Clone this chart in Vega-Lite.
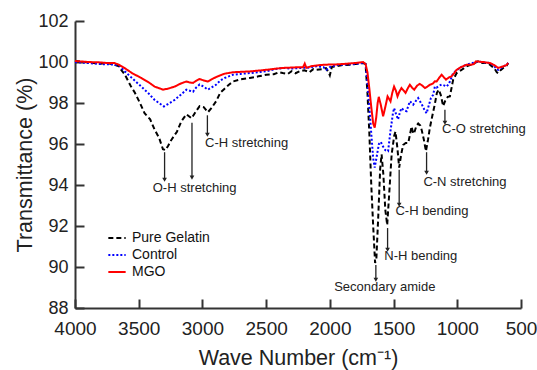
{
  "$schema": "https://vega.github.io/schema/vega-lite/v6.json",
  "autosize": {"type": "none"},
  "padding": {"left": 75, "top": 21, "right": 16, "bottom": 62},
  "width": 446,
  "height": 287,
  "config": {
    "font": "Liberation Sans",
    "view": {"stroke": null},
    "axis": {
      "grid": false,
      "domainColor": "#333333",
      "domainWidth": 2,
      "tickColor": "#333333",
      "tickWidth": 2,
      "tickSize": -9,
      "labelFont": "Liberation Sans",
      "labelFontSize": 19,
      "labelColor": "#222222",
      "titleFont": "Liberation Sans",
      "titleFontSize": 21.5,
      "titleFontWeight": "normal",
      "titleColor": "#222222"
    }
  },
  "datasets": {
    "ftir": [
      {"s":"Pure Gelatin","wn":4000,"t":100.05},{"s":"Pure Gelatin","wn":3900,"t":99.98},{"s":"Pure Gelatin","wn":3800,"t":99.92},{"s":"Pure Gelatin","wn":3750,"t":99.95},{"s":"Pure Gelatin","wn":3700,"t":99.88},{"s":"Pure Gelatin","wn":3660,"t":99.8},{"s":"Pure Gelatin","wn":3610,"t":99.4},{"s":"Pure Gelatin","wn":3560,"t":98.8},{"s":"Pure Gelatin","wn":3530,"t":98.5},{"s":"Pure Gelatin","wn":3490,"t":98.0},{"s":"Pure Gelatin","wn":3454,"t":97.5},{"s":"Pure Gelatin","wn":3410,"t":97.2},{"s":"Pure Gelatin","wn":3375,"t":96.7},{"s":"Pure Gelatin","wn":3340,"t":96.3},{"s":"Pure Gelatin","wn":3310,"t":95.75},{"s":"Pure Gelatin","wn":3290,"t":95.7},{"s":"Pure Gelatin","wn":3270,"t":95.9},{"s":"Pure Gelatin","wn":3244,"t":96.2},{"s":"Pure Gelatin","wn":3200,"t":96.6},{"s":"Pure Gelatin","wn":3166,"t":97.1},{"s":"Pure Gelatin","wn":3126,"t":97.45},{"s":"Pure Gelatin","wn":3085,"t":97.25},{"s":"Pure Gelatin","wn":3050,"t":97.6},{"s":"Pure Gelatin","wn":3022,"t":97.85},{"s":"Pure Gelatin","wn":2990,"t":97.8},{"s":"Pure Gelatin","wn":2957,"t":97.55},{"s":"Pure Gelatin","wn":2930,"t":97.75},{"s":"Pure Gelatin","wn":2891,"t":98.1},{"s":"Pure Gelatin","wn":2860,"t":98.5},{"s":"Pure Gelatin","wn":2826,"t":98.7},{"s":"Pure Gelatin","wn":2790,"t":98.9},{"s":"Pure Gelatin","wn":2760,"t":99.05},{"s":"Pure Gelatin","wn":2700,"t":99.15},{"s":"Pure Gelatin","wn":2629,"t":99.22},{"s":"Pure Gelatin","wn":2560,"t":99.3},{"s":"Pure Gelatin","wn":2498,"t":99.38},{"s":"Pure Gelatin","wn":2440,"t":99.4},{"s":"Pure Gelatin","wn":2400,"t":99.5},{"s":"Pure Gelatin","wn":2370,"t":99.46},{"s":"Pure Gelatin","wn":2330,"t":99.42},{"s":"Pure Gelatin","wn":2300,"t":99.55},{"s":"Pure Gelatin","wn":2270,"t":99.45},{"s":"Pure Gelatin","wn":2236,"t":99.55},{"s":"Pure Gelatin","wn":2200,"t":99.6},{"s":"Pure Gelatin","wn":2160,"t":99.5},{"s":"Pure Gelatin","wn":2130,"t":99.65},{"s":"Pure Gelatin","wn":2105,"t":99.62},{"s":"Pure Gelatin","wn":2060,"t":99.65},{"s":"Pure Gelatin","wn":2030,"t":99.7},{"s":"Pure Gelatin","wn":2010,"t":99.5},{"s":"Pure Gelatin","wn":2000,"t":99.35},{"s":"Pure Gelatin","wn":1985,"t":99.75},{"s":"Pure Gelatin","wn":1940,"t":99.8},{"s":"Pure Gelatin","wn":1900,"t":99.85},{"s":"Pure Gelatin","wn":1844,"t":99.87},{"s":"Pure Gelatin","wn":1780,"t":99.92},{"s":"Pure Gelatin","wn":1739,"t":99.95},{"s":"Pure Gelatin","wn":1720,"t":99.9},{"s":"Pure Gelatin","wn":1705,"t":98.5},{"s":"Pure Gelatin","wn":1690,"t":96.5},{"s":"Pure Gelatin","wn":1675,"t":94.0},{"s":"Pure Gelatin","wn":1660,"t":92.0},{"s":"Pure Gelatin","wn":1645,"t":90.2},{"s":"Pure Gelatin","wn":1635,"t":90.4},{"s":"Pure Gelatin","wn":1620,"t":92.5},{"s":"Pure Gelatin","wn":1605,"t":94.8},{"s":"Pure Gelatin","wn":1594,"t":95.5},{"s":"Pure Gelatin","wn":1580,"t":94.5},{"s":"Pure Gelatin","wn":1565,"t":92.8},{"s":"Pure Gelatin","wn":1550,"t":92.05},{"s":"Pure Gelatin","wn":1535,"t":93.5},{"s":"Pure Gelatin","wn":1515,"t":95.5},{"s":"Pure Gelatin","wn":1495,"t":96.4},{"s":"Pure Gelatin","wn":1485,"t":96.6},{"s":"Pure Gelatin","wn":1470,"t":95.8},{"s":"Pure Gelatin","wn":1456,"t":94.85},{"s":"Pure Gelatin","wn":1440,"t":95.5},{"s":"Pure Gelatin","wn":1425,"t":95.95},{"s":"Pure Gelatin","wn":1405,"t":96.05},{"s":"Pure Gelatin","wn":1385,"t":96.05},{"s":"Pure Gelatin","wn":1370,"t":96.5},{"s":"Pure Gelatin","wn":1359,"t":96.85},{"s":"Pure Gelatin","wn":1345,"t":96.5},{"s":"Pure Gelatin","wn":1338,"t":96.55},{"s":"Pure Gelatin","wn":1320,"t":96.9},{"s":"Pure Gelatin","wn":1307,"t":97.0},{"s":"Pure Gelatin","wn":1290,"t":96.9},{"s":"Pure Gelatin","wn":1280,"t":96.7},{"s":"Pure Gelatin","wn":1262,"t":96.2},{"s":"Pure Gelatin","wn":1246,"t":95.65},{"s":"Pure Gelatin","wn":1230,"t":96.2},{"s":"Pure Gelatin","wn":1215,"t":96.8},{"s":"Pure Gelatin","wn":1195,"t":97.4},{"s":"Pure Gelatin","wn":1176,"t":97.95},{"s":"Pure Gelatin","wn":1160,"t":98.5},{"s":"Pure Gelatin","wn":1145,"t":98.65},{"s":"Pure Gelatin","wn":1130,"t":98.4},{"s":"Pure Gelatin","wn":1111,"t":97.85},{"s":"Pure Gelatin","wn":1095,"t":98.1},{"s":"Pure Gelatin","wn":1075,"t":98.3},{"s":"Pure Gelatin","wn":1058,"t":98.32},{"s":"Pure Gelatin","wn":1040,"t":98.9},{"s":"Pure Gelatin","wn":1032,"t":99.14},{"s":"Pure Gelatin","wn":1005,"t":99.46},{"s":"Pure Gelatin","wn":970,"t":99.6},{"s":"Pure Gelatin","wn":927,"t":99.79},{"s":"Pure Gelatin","wn":880,"t":99.9},{"s":"Pure Gelatin","wn":836,"t":100.03},{"s":"Pure Gelatin","wn":800,"t":99.95},{"s":"Pure Gelatin","wn":770,"t":99.95},{"s":"Pure Gelatin","wn":744,"t":99.87},{"s":"Pure Gelatin","wn":710,"t":99.7},{"s":"Pure Gelatin","wn":690,"t":99.5},{"s":"Pure Gelatin","wn":679,"t":99.46},{"s":"Pure Gelatin","wn":660,"t":99.6},{"s":"Pure Gelatin","wn":639,"t":99.71},{"s":"Pure Gelatin","wn":615,"t":99.8},{"s":"Pure Gelatin","wn":600,"t":99.95},
      {"s":"Control","wn":4000,"t":100.0},{"s":"Control","wn":3900,"t":99.95},{"s":"Control","wn":3800,"t":99.9},{"s":"Control","wn":3700,"t":99.88},{"s":"Control","wn":3650,"t":99.8},{"s":"Control","wn":3610,"t":99.55},{"s":"Control","wn":3550,"t":99.2},{"s":"Control","wn":3480,"t":98.8},{"s":"Control","wn":3420,"t":98.45},{"s":"Control","wn":3375,"t":98.15},{"s":"Control","wn":3330,"t":97.95},{"s":"Control","wn":3302,"t":97.83},{"s":"Control","wn":3270,"t":97.95},{"s":"Control","wn":3218,"t":98.15},{"s":"Control","wn":3170,"t":98.4},{"s":"Control","wn":3126,"t":98.65},{"s":"Control","wn":3100,"t":98.6},{"s":"Control","wn":3074,"t":98.55},{"s":"Control","wn":3050,"t":98.75},{"s":"Control","wn":3022,"t":98.9},{"s":"Control","wn":2990,"t":98.8},{"s":"Control","wn":2957,"t":98.65},{"s":"Control","wn":2930,"t":98.75},{"s":"Control","wn":2891,"t":98.9},{"s":"Control","wn":2860,"t":99.1},{"s":"Control","wn":2826,"t":99.22},{"s":"Control","wn":2760,"t":99.38},{"s":"Control","wn":2700,"t":99.42},{"s":"Control","wn":2629,"t":99.46},{"s":"Control","wn":2560,"t":99.5},{"s":"Control","wn":2498,"t":99.55},{"s":"Control","wn":2430,"t":99.65},{"s":"Control","wn":2370,"t":99.71},{"s":"Control","wn":2300,"t":99.68},{"s":"Control","wn":2236,"t":99.71},{"s":"Control","wn":2170,"t":99.72},{"s":"Control","wn":2105,"t":99.79},{"s":"Control","wn":2050,"t":99.75},{"s":"Control","wn":2026,"t":99.62},{"s":"Control","wn":2000,"t":99.75},{"s":"Control","wn":1950,"t":99.85},{"s":"Control","wn":1896,"t":99.87},{"s":"Control","wn":1800,"t":99.9},{"s":"Control","wn":1739,"t":99.95},{"s":"Control","wn":1720,"t":99.9},{"s":"Control","wn":1705,"t":99.0},{"s":"Control","wn":1690,"t":97.8},{"s":"Control","wn":1675,"t":96.5},{"s":"Control","wn":1660,"t":95.3},{"s":"Control","wn":1648,"t":94.85},{"s":"Control","wn":1635,"t":95.3},{"s":"Control","wn":1615,"t":96.0},{"s":"Control","wn":1600,"t":96.1},{"s":"Control","wn":1585,"t":95.9},{"s":"Control","wn":1565,"t":95.7},{"s":"Control","wn":1543,"t":95.65},{"s":"Control","wn":1525,"t":96.6},{"s":"Control","wn":1505,"t":97.5},{"s":"Control","wn":1496,"t":97.75},{"s":"Control","wn":1480,"t":97.45},{"s":"Control","wn":1465,"t":97.2},{"s":"Control","wn":1450,"t":97.55},{"s":"Control","wn":1438,"t":97.75},{"s":"Control","wn":1420,"t":97.65},{"s":"Control","wn":1398,"t":97.6},{"s":"Control","wn":1385,"t":97.85},{"s":"Control","wn":1372,"t":98.08},{"s":"Control","wn":1358,"t":98.0},{"s":"Control","wn":1346,"t":97.92},{"s":"Control","wn":1325,"t":98.1},{"s":"Control","wn":1307,"t":98.24},{"s":"Control","wn":1294,"t":98.1},{"s":"Control","wn":1280,"t":97.95},{"s":"Control","wn":1260,"t":97.7},{"s":"Control","wn":1241,"t":97.5},{"s":"Control","wn":1225,"t":97.85},{"s":"Control","wn":1207,"t":98.24},{"s":"Control","wn":1189,"t":98.4},{"s":"Control","wn":1176,"t":98.8},{"s":"Control","wn":1162,"t":98.75},{"s":"Control","wn":1140,"t":98.85},{"s":"Control","wn":1123,"t":98.9},{"s":"Control","wn":1100,"t":98.85},{"s":"Control","wn":1084,"t":98.8},{"s":"Control","wn":1070,"t":98.9},{"s":"Control","wn":1058,"t":99.05},{"s":"Control","wn":1032,"t":99.46},{"s":"Control","wn":1005,"t":99.6},{"s":"Control","wn":970,"t":99.75},{"s":"Control","wn":927,"t":99.87},{"s":"Control","wn":880,"t":99.95},{"s":"Control","wn":836,"t":100.03},{"s":"Control","wn":790,"t":99.98},{"s":"Control","wn":744,"t":99.95},{"s":"Control","wn":710,"t":99.8},{"s":"Control","wn":690,"t":99.65},{"s":"Control","wn":679,"t":99.62},{"s":"Control","wn":660,"t":99.7},{"s":"Control","wn":639,"t":99.79},{"s":"Control","wn":615,"t":99.85},{"s":"Control","wn":600,"t":99.95},
      {"s":"MGO","wn":4000,"t":100.05},{"s":"MGO","wn":3900,"t":100.0},{"s":"MGO","wn":3800,"t":99.98},{"s":"MGO","wn":3750,"t":99.95},{"s":"MGO","wn":3690,"t":99.95},{"s":"MGO","wn":3650,"t":99.85},{"s":"MGO","wn":3610,"t":99.7},{"s":"MGO","wn":3550,"t":99.45},{"s":"MGO","wn":3480,"t":99.22},{"s":"MGO","wn":3420,"t":99.0},{"s":"MGO","wn":3375,"t":98.8},{"s":"MGO","wn":3330,"t":98.7},{"s":"MGO","wn":3310,"t":98.65},{"s":"MGO","wn":3270,"t":98.7},{"s":"MGO","wn":3218,"t":98.8},{"s":"MGO","wn":3170,"t":98.95},{"s":"MGO","wn":3126,"t":99.05},{"s":"MGO","wn":3100,"t":99.0},{"s":"MGO","wn":3074,"t":98.98},{"s":"MGO","wn":3050,"t":99.08},{"s":"MGO","wn":3022,"t":99.17},{"s":"MGO","wn":2990,"t":99.1},{"s":"MGO","wn":2957,"t":99.05},{"s":"MGO","wn":2930,"t":99.15},{"s":"MGO","wn":2891,"t":99.27},{"s":"MGO","wn":2860,"t":99.35},{"s":"MGO","wn":2826,"t":99.43},{"s":"MGO","wn":2760,"t":99.5},{"s":"MGO","wn":2700,"t":99.52},{"s":"MGO","wn":2629,"t":99.54},{"s":"MGO","wn":2560,"t":99.58},{"s":"MGO","wn":2498,"t":99.62},{"s":"MGO","wn":2430,"t":99.67},{"s":"MGO","wn":2370,"t":99.71},{"s":"MGO","wn":2300,"t":99.73},{"s":"MGO","wn":2236,"t":99.75},{"s":"MGO","wn":2210,"t":99.75},{"s":"MGO","wn":2197,"t":99.92},{"s":"MGO","wn":2185,"t":99.72},{"s":"MGO","wn":2140,"t":99.8},{"s":"MGO","wn":2080,"t":99.85},{"s":"MGO","wn":2026,"t":99.87},{"s":"MGO","wn":1960,"t":99.88},{"s":"MGO","wn":1900,"t":99.9},{"s":"MGO","wn":1800,"t":99.95},{"s":"MGO","wn":1739,"t":100.0},{"s":"MGO","wn":1720,"t":99.9},{"s":"MGO","wn":1705,"t":99.5},{"s":"MGO","wn":1690,"t":98.7},{"s":"MGO","wn":1675,"t":97.8},{"s":"MGO","wn":1660,"t":97.0},{"s":"MGO","wn":1648,"t":96.8},{"s":"MGO","wn":1636,"t":97.3},{"s":"MGO","wn":1625,"t":98.0},{"s":"MGO","wn":1616,"t":98.3},{"s":"MGO","wn":1600,"t":97.9},{"s":"MGO","wn":1582,"t":97.35},{"s":"MGO","wn":1565,"t":97.8},{"s":"MGO","wn":1547,"t":98.32},{"s":"MGO","wn":1535,"t":98.2},{"s":"MGO","wn":1524,"t":98.08},{"s":"MGO","wn":1510,"t":98.5},{"s":"MGO","wn":1496,"t":98.8},{"s":"MGO","wn":1482,"t":98.6},{"s":"MGO","wn":1469,"t":98.32},{"s":"MGO","wn":1455,"t":98.55},{"s":"MGO","wn":1438,"t":98.73},{"s":"MGO","wn":1420,"t":98.6},{"s":"MGO","wn":1406,"t":98.49},{"s":"MGO","wn":1390,"t":98.7},{"s":"MGO","wn":1372,"t":98.89},{"s":"MGO","wn":1355,"t":98.75},{"s":"MGO","wn":1338,"t":98.65},{"s":"MGO","wn":1315,"t":98.85},{"s":"MGO","wn":1294,"t":98.93},{"s":"MGO","wn":1275,"t":98.85},{"s":"MGO","wn":1254,"t":98.73},{"s":"MGO","wn":1235,"t":98.8},{"s":"MGO","wn":1215,"t":98.89},{"s":"MGO","wn":1190,"t":98.95},{"s":"MGO","wn":1176,"t":99.06},{"s":"MGO","wn":1162,"t":99.05},{"s":"MGO","wn":1140,"t":99.25},{"s":"MGO","wn":1123,"t":99.38},{"s":"MGO","wn":1105,"t":99.25},{"s":"MGO","wn":1089,"t":99.14},{"s":"MGO","wn":1065,"t":99.25},{"s":"MGO","wn":1045,"t":99.3},{"s":"MGO","wn":1025,"t":99.45},{"s":"MGO","wn":1005,"t":99.62},{"s":"MGO","wn":970,"t":99.75},{"s":"MGO","wn":927,"t":99.87},{"s":"MGO","wn":890,"t":99.87},{"s":"MGO","wn":870,"t":99.9},{"s":"MGO","wn":853,"t":100.03},{"s":"MGO","wn":800,"t":100.0},{"s":"MGO","wn":744,"t":99.95},{"s":"MGO","wn":710,"t":99.85},{"s":"MGO","wn":679,"t":99.71},{"s":"MGO","wn":660,"t":99.75},{"s":"MGO","wn":639,"t":99.79},{"s":"MGO","wn":615,"t":99.85},{"s":"MGO","wn":600,"t":99.95}
    ],
    "arrows": [
      {"wn":3297,"y1":95.6,"y2":94.26},
      {"wn":3082,"y1":97.04,"y2":94.36},
      {"wn":2961,"y1":97.4,"y2":96.45},
      {"wn":1639,"y1":90.1,"y2":89.38},
      {"wn":1547,"y1":91.9,"y2":90.84},
      {"wn":1456,"y1":94.75,"y2":93.04},
      {"wn":1241,"y1":95.6,"y2":94.6},
      {"wn":1097,"y1":97.67,"y2":97.04}
    ],
    "labels": [
      {"wn":3061,"y":93.85,"label":"O-H stretching"},
      {"wn":2653,"y":96.05,"label":"C-H stretching"},
      {"wn":1569,"y":89.02,"label":"Secondary amide"},
      {"wn":1286,"y":90.52,"label":"N-H bending"},
      {"wn":1199,"y":92.75,"label":"C-H bending"},
      {"wn":940,"y":94.13,"label":"C-N stretching"},
      {"wn":791,"y":96.75,"label":"C-O stretching"}
    ]
  },
  "layer": [
    {
      "data": {"name": "ftir"},
      "mark": {"type": "line", "strokeWidth": 2},
      "encoding": {
        "x": {
          "field": "wn", "type": "quantitative",
          "scale": {"domain": [500, 4000], "reverse": true, "nice": false},
          "axis": {"values": [4000, 3500, 3000, 2500, 2000, 1500, 1000, 500], "title": "Wave Number (cm⁻¹)", "labelPadding": 20, "titlePadding": 9, "format": "d", "labelFlush": false, "labelOverlap": false}
        },
        "y": {
          "field": "t", "type": "quantitative",
          "scale": {"domain": [88, 102], "nice": false, "zero": false},
          "axis": {"values": [88, 90, 92, 94, 96, 98, 100, 102], "title": "Transmittance (%)", "labelPadding": 16, "labelFontSize": 18, "titlePadding": 1, "labelFlush": false, "labelOverlap": false}
        },
        "color": {
          "field": "s", "type": "nominal",
          "scale": {"domain": ["Pure Gelatin", "Control", "MGO"], "range": ["#000000", "#0000ff", "#ff0000"]},
          "legend": {
            "title": null, "orient": "none", "legendX": 32, "legendY": 207,
            "symbolType": "stroke", "symbolSize": 300, "symbolStrokeWidth": 2,
            "labelFontSize": 14, "labelColor": "#111111", "labelFont": "Liberation Sans",
            "labelOffset": 5, "rowPadding": 0, "padding": 0
          }
        },
        "strokeDash": {
          "field": "s", "type": "nominal",
          "scale": {"domain": ["Pure Gelatin", "Control", "MGO"], "range": [[5, 3], [2, 2], [1, 0]]},
          "legend": {
            "title": null, "orient": "none", "legendX": 32, "legendY": 207,
            "symbolType": "stroke", "symbolSize": 300, "symbolStrokeWidth": 2,
            "labelFontSize": 14, "labelColor": "#111111", "labelFont": "Liberation Sans",
            "labelOffset": 5, "rowPadding": 0, "padding": 0
          }
        }
      }
    },
    {
      "data": {"name": "arrows"},
      "mark": {"type": "rule", "color": "#222222", "strokeWidth": 1.3},
      "encoding": {
        "x": {"field": "wn", "type": "quantitative"},
        "y": {"field": "y1", "type": "quantitative"},
        "y2": {"field": "y2"}
      }
    },
    {
      "data": {"name": "arrows"},
      "mark": {"type": "point", "shape": "triangle-down", "filled": true, "color": "#222222", "size": 22, "opacity": 1},
      "encoding": {
        "x": {"field": "wn", "type": "quantitative"},
        "y": {"field": "y2", "type": "quantitative"}
      }
    },
    {
      "data": {"name": "labels"},
      "mark": {"type": "text", "fontSize": 13, "color": "#222222", "font": "Liberation Sans", "align": "center", "baseline": "middle"},
      "encoding": {
        "x": {"field": "wn", "type": "quantitative"},
        "y": {"field": "y", "type": "quantitative"},
        "text": {"field": "label"}
      }
    }
  ]
}
